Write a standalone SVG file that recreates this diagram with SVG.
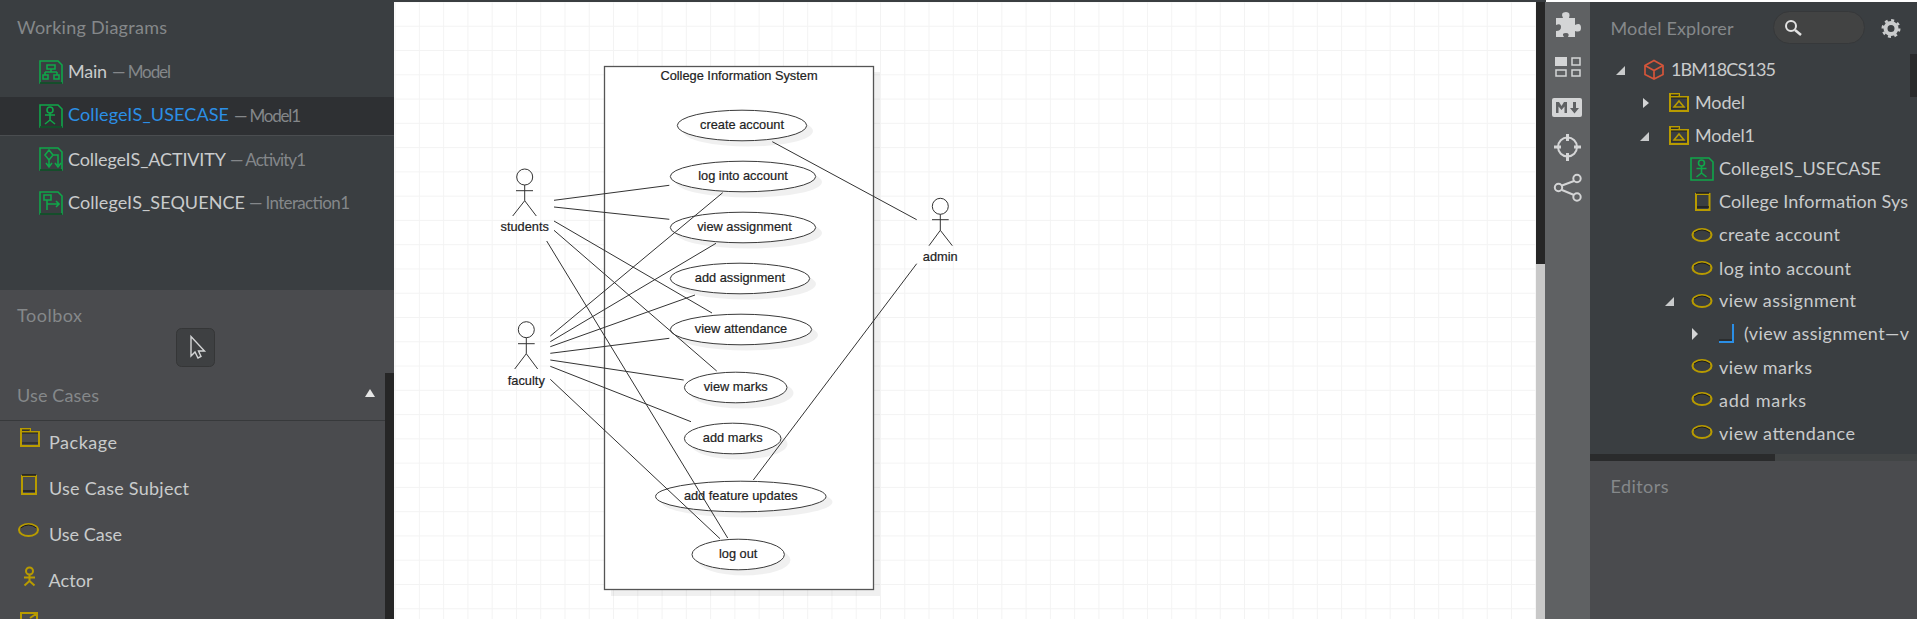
<svg xmlns="http://www.w3.org/2000/svg" width="1917" height="619" viewBox="0 0 1917 619">
<style>
.ui{font-family:"Lato","Open Sans","Liberation Sans",sans-serif;font-size:18px;fill:#c9cbcc}
.hd{fill:#85888a}
.sub{fill:#84878a;font-size:17px}
.sel{fill:#2b8fe6}
.gi{fill:none;stroke:#10a64a;stroke-width:1.6}
.yi{fill:none;stroke:#b89b00;stroke-width:2}
.dk{fill:none;stroke:#1c1c1c;stroke-width:1.5}
.wh{fill:#d4d5d6}
.ol{fill:none;stroke:#d4d5d6;stroke-width:2}
.uc{fill:#fff;stroke:#3a3a3a;stroke-width:1}
.ucs{fill:#000;fill-opacity:.06}
.lb{font-family:"Liberation Sans",Arial,sans-serif;font-size:12.8px;fill:#222;stroke:#222;stroke-width:.2;text-anchor:middle}
.ln{fill:none;stroke:#333;stroke-width:1}
</style>
<defs>
<pattern id="grid" x="394.6" y="1.5" width="24.27" height="24.27" patternUnits="userSpaceOnUse">
<path d="M0 0H24.27M0 0V24.27" fill="none" stroke="#f3f3f3" stroke-width="2"/>
</pattern>
<g id="oval"><ellipse cx="10" cy="7" rx="9.5" ry="6" fill="none" stroke="#b89b00" stroke-width="2"/><path d="M2 5Q10 -1 18 5" fill="none" stroke="#1c1c1c" stroke-width="1"/></g>
<g id="folder"><path d="M1 3H19V17H1ZM1 3V0H10V3" fill="none" stroke="#b89b00" stroke-width="2"/><path d="M2 1H10M2 4H18M2 14H18" fill="none" stroke="#1c1c1c" stroke-width="1"/></g>
<path id="fm" d="M5 13L10 7L15 13Z" fill="none" stroke="#b89b00" stroke-width="1.6"/>
</defs>

<!-- canvas -->
<rect width="1917" height="619" fill="#fff"/>
<rect x="394" y="2" width="1142" height="617" fill="url(#grid)"/>
<rect x="394" y="0" width="1152" height="2" fill="#3a3e41"/>

<!-- left panels -->
<g id="working-diagrams">
<rect x="0" y="0" width="394" height="290" fill="#3a3e41"/>
<rect x="0" y="97" width="394" height="38" fill="#2e3033"/>
<path d="M0 135.5H394" stroke="#4a4d50"/>
<text class="ui hd" x="17" y="34" textLength="150">Working Diagrams</text>
<g><path class="gi" d="M40 61H58L62 65V83H40Z"/><path class="gi" d="M47 65H55V69H47ZM51 69V72M45 72H57M45 72V75M57 72V75M43 75H48V79H43ZM54 75H59V79H54Z" stroke-width="1.2"/><path d="M40 83H62" stroke="#111"/></g>
<text class="ui" x="68" y="78" textLength="39">Main</text><text class="ui sub" x="112" y="78" textLength="59">— Model</text>
<g><path class="gi" d="M40 105H58L62 109V127H40Z"/><circle class="gi" cx="50" cy="110" r="3"/><path class="gi" d="M50 113V120M45 115H55M50 120L45 124M50 120L55 124" stroke-width="1.2"/><path d="M40 127H62" stroke="#111"/></g>
<text class="ui sel" x="68" y="121" textLength="161">CollegeIS_USECASE</text><text class="ui sub" x="234" y="122" textLength="67">— Model1</text>
<g><path class="gi" d="M40 148H58L62 152V170H40Z"/><path class="gi" d="M49 150L53 155L49 160L45 155ZM53 155H58V165M49 160V166M46 163L49 167L52 163M55 163L58 167L61 163" stroke-width="1.2"/><path d="M40 170H62" stroke="#111"/></g>
<text class="ui" x="68" y="166" textLength="158">CollegeIS_ACTIVITY</text><text class="ui sub" x="230" y="166" textLength="76">— Activity1</text>
<g><path class="gi" d="M40 192H58L62 196V214H40Z"/><path class="gi" d="M44 195H51V200H44ZM47 200V210M47 204H59M56 201L59 204L56 207" stroke-width="1.2"/><path d="M40 214H62" stroke="#111"/></g>
<text class="ui" x="68" y="209" textLength="177">CollegeIS_SEQUENCE</text><text class="ui sub" x="249" y="209" textLength="101">— Interaction1</text>
</g>
<g id="toolbox">
<rect x="0" y="290" width="394" height="329" fill="#4a4b4e"/>
<text class="ui hd" x="17" y="322" textLength="65">Toolbox</text>
<rect x="176.500" y="328.500" width="38" height="38" rx="5" fill="#3e4042" stroke="#353637"/>
<path d="M191 336.500V356L195 352L198 358L201 356.500L198.500 351H204.500Z" fill="#3e4042" stroke="#d4d5d6" stroke-width="1.400"/>
<rect x="385" y="373" width="9" height="246" fill="#262626"/>
<text class="ui hd" x="17" y="402" textLength="82">Use Cases</text>
<path d="M365 397L370 389L375 397Z" fill="#e6e6e6"/>
<path d="M0 420.500H385" stroke="#37393b"/>
<g><use href="#folder" x="20" y="429"/></g>
<text class="ui" x="49" y="449" textLength="68">Package</text>
<g><rect class="yi" x="22" y="476" width="14" height="18"/><path class="dk" d="M22 475H36M23 491H35" stroke-width="1"/></g>
<text class="ui" x="49" y="495" textLength="140">Use Case Subject</text>
<use href="#oval" x="18.500" y="523"/>
<text class="ui" x="49" y="541" textLength="73">Use Case</text>
<g><circle class="yi" cx="29.500" cy="571" r="3.500" stroke-width="1.600"/><path class="yi" d="M29.500 575V581M24 577.500H35M29.500 581L24.500 585.500M29.500 581L34.500 585.500" stroke-width="1.600"/></g>
<text class="ui" x="48.500" y="587" textLength="44">Actor</text>
<path class="yi" d="M21 619V613H37V619M30 618L36 614" />
</g>

<!-- toolbar -->
<g id="toolbar">
<rect x="1536" y="2" width="9" height="262" fill="#262626"/>
<rect x="1536" y="264" width="9" height="355" fill="#c8c8c8"/>
<rect x="1545" y="2" width="45" height="617" fill="#5f6163"/>
<path class="wh" d="M1556 18H1563Q1560 12 1566 12Q1571 12 1569 18H1575V25Q1581 22 1581 28Q1581 33 1575 31V37H1568Q1570 33 1566 33Q1561 33 1564 37H1556V31Q1561 31 1561 27Q1561 23 1556 25Z"/>
<rect class="wh" x="1555" y="57" width="12" height="9"/>
<path d="M1572 58H1580V65H1572ZM1556 70H1566V76H1556ZM1572 70H1580V76H1572Z" fill="none" stroke="#d4d5d6" stroke-width="1.500"/>
<rect class="wh" x="1552" y="98" width="30" height="19" rx="2"/>
<path d="M1556 113V102H1559L1561.500 106L1564 102H1567V113H1564.500V106.500L1561.500 110L1558.500 106.500V113ZM1573 102H1576V108H1579L1574.500 113.500L1570 108H1573Z" fill="#5f6163"/>
<circle class="ol" cx="1567.500" cy="147" r="9.500" stroke-width="2.500"/>
<path d="M1567.500 134V141M1567.500 153V161M1554 147H1561M1574 147H1581" stroke="#d4d5d6" stroke-width="3"/>
<circle class="ol" cx="1577" cy="178.500" r="3.700"/><circle class="ol" cx="1577" cy="197" r="3.700"/><circle class="ol" cx="1558.500" cy="187.500" r="3.700"/>
<path class="ol" d="M1574 181L1562 185.500M1562 190L1574 195"/>
</g>

<!-- right panels -->
<g id="model-explorer">
<rect x="1590" y="2" width="327" height="452" fill="#3a3e41"/>
<text class="ui hd" x="1610.500" y="34.500" textLength="123">Model Explorer</text>
<rect x="1773.500" y="11.500" width="91" height="32" rx="16" fill="#424343" stroke="#36383a"/>
<circle cx="1791" cy="26" r="5" fill="none" stroke="#e2e2e2" stroke-width="2"/><path d="M1795 30L1801 35" stroke="#e2e2e2" stroke-width="2.500"/>
<circle cx="1891" cy="28.500" r="5.500" fill="none" stroke="#c9cbcc" stroke-width="4"/><circle cx="1891" cy="28.500" r="8.300" fill="none" stroke="#c9cbcc" stroke-width="2.400" stroke-dasharray="3 3.500"/>
<rect x="1910" y="54" width="7" height="43" fill="#2a2b2c"/>
<path d="M1616 75L1625 66V75Z" fill="#c9cbcc"/>
<path d="M1654 60.500L1663 65.500V74.500L1654 79L1645 74.500V65.500ZM1645 65.500L1654 70.500L1663 65.500M1654 70.500V79" fill="none" stroke="#d4553a" stroke-width="1.700"/>
<text class="ui" x="1671" y="76" textLength="105">1BM18CS135</text>
<path d="M1643 98L1649 103L1643 108Z" fill="#d4d5d6"/>
<use href="#folder" x="1669" y="94"/><use href="#fm" x="1669" y="94"/>
<text class="ui" x="1695" y="109" textLength="50">Model</text>
<path d="M1640 141L1649 132V141Z" fill="#c9cbcc"/>
<use href="#folder" x="1669" y="127"/><use href="#fm" x="1669" y="127"/>
<text class="ui" x="1695" y="142" textLength="60">Model1</text>
<g><path class="gi" d="M1691 158H1709L1713 162V180H1691Z"/><circle class="gi" cx="1701.500" cy="163" r="3"/><path class="gi" d="M1701.500 166V173M1696.500 168.500H1706.500M1701.500 173L1696.500 177M1701.500 173L1706.500 177" stroke-width="1.200"/></g>
<text class="ui" x="1719" y="175" textLength="162">CollegeIS_USECASE</text>
<g><rect class="yi" x="1696" y="194" width="13.500" height="16"/><path class="dk" d="M1696 193H1709M1697 207H1709" stroke-width="1"/></g>
<text class="ui" x="1719" y="208" textLength="189">College Information Sys</text>
<use href="#oval" x="1692" y="228"/>
<text class="ui" x="1719" y="241" textLength="121">create account</text>
<use href="#oval" x="1692" y="261"/>
<text class="ui" x="1719" y="274.500" textLength="132">log into account</text>
<path d="M1665 306L1674 297V306Z" fill="#c9cbcc"/>
<use href="#oval" x="1692" y="294"/>
<text class="ui" x="1719" y="307" textLength="137">view assignment</text>
<path d="M1692 328L1698 334L1692 340Z" fill="#d4d5d6"/>
<path d="M1733 324V342H1719" fill="none" stroke="#2b8fe6" stroke-width="2"/><path d="M1719 340H1732" stroke="#1c1c1c"/>
<text class="ui" x="1744" y="340" textLength="165">(view assignment—v</text>
<use href="#oval" x="1692" y="359"/>
<text class="ui" x="1719" y="373.500" textLength="93">view marks</text>
<use href="#oval" x="1692" y="392"/>
<text class="ui" x="1719" y="406.500" textLength="87">add marks</text>
<use href="#oval" x="1692" y="425"/>
<text class="ui" x="1719" y="439.500" textLength="136">view attendance</text>
<rect x="1590" y="454" width="185" height="7" fill="#2a2b2c"/>
<rect x="1775" y="454" width="142" height="7" fill="#424546"/>
</g>
<g id="editors">
<rect x="1590" y="461" width="327" height="158" fill="#4a4b4e"/>
<text class="ui hd" x="1610.500" y="493" textLength="58">Editors</text>
</g>

<!-- diagram -->
<g id="subject">
<rect x="611" y="72" width="269" height="524" fill="#000" fill-opacity=".06"/>
<rect x="604.500" y="66.500" width="269" height="523" fill="#fff" stroke="#555" stroke-width="1.300"/>
<text class="lb" x="739" y="80">College Information System</text>
</g>
<g id="uc-create-account"><ellipse class="ucs" cx="748" cy="131" rx="65" ry="15.500"/><ellipse class="uc" cx="742" cy="125.500" rx="64.700" ry="15.300"/><text class="lb" x="742" y="128.500">create account</text></g>
<g id="uc-log-into-account"><ellipse class="ucs" cx="749" cy="182" rx="73" ry="15.500"/><ellipse class="uc" cx="743" cy="176.500" rx="72.700" ry="15.300"/><text class="lb" x="743" y="179.500">log into account</text></g>
<g id="uc-view-assignment"><ellipse class="ucs" cx="749" cy="233" rx="73" ry="15.500"/><ellipse class="uc" cx="743" cy="227.500" rx="72.700" ry="15.300"/><text class="lb" x="744.500" y="230.500">view assignment</text></g>
<g id="uc-add-assignment"><ellipse class="ucs" cx="746" cy="284" rx="70" ry="15.500"/><ellipse class="uc" cx="740" cy="278.500" rx="69.700" ry="15.300"/><text class="lb" x="740" y="281.500">add assignment</text></g>
<g id="uc-view-attendance"><ellipse class="ucs" cx="747" cy="335" rx="71" ry="15.500"/><ellipse class="uc" cx="741" cy="329.500" rx="70.700" ry="15.300"/><text class="lb" x="741" y="332.500">view attendance</text></g>
<g id="uc-view-marks"><ellipse class="ucs" cx="742" cy="393" rx="51.500" ry="15.500"/><ellipse class="uc" cx="735.700" cy="387.500" rx="51.300" ry="15.300"/><text class="lb" x="735.700" y="390.500">view marks</text></g>
<g id="uc-add-marks"><ellipse class="ucs" cx="739" cy="444" rx="48.500" ry="15.500"/><ellipse class="uc" cx="732.700" cy="438.500" rx="48.300" ry="15.300"/><text class="lb" x="732.700" y="441.500">add marks</text></g>
<g id="uc-add-feature-updates"><ellipse class="ucs" cx="747" cy="502" rx="85.500" ry="15.500"/><ellipse class="uc" cx="740.800" cy="496.500" rx="85.200" ry="15.300"/><text class="lb" x="740.800" y="499.500">add feature updates</text></g>
<g id="uc-log-out"><ellipse class="ucs" cx="744" cy="560" rx="46.500" ry="15.500"/><ellipse class="uc" cx="738.200" cy="554.500" rx="46.200" ry="15.300"/><text class="lb" x="738.200" y="557.500">log out</text></g>

<g id="actor-students">
<circle class="ln" cx="524.700" cy="177" r="8"/><path class="ln" d="M524.700 185V200.700M516 190.700H533M524.700 200.700L512.700 216M524.700 200.700L536.300 216"/>
<text class="lb" x="524.700" y="231">students</text>
</g>
<g id="actor-faculty">
<circle class="ln" cx="526.300" cy="329.700" r="8"/><path class="ln" d="M526.300 337.700V353.700M518 343.700H534.700M526.300 353.700L514.700 369M526.300 353.700L537.700 369"/>
<text class="lb" x="526.300" y="384.500">faculty</text>
</g>
<g id="actor-admin">
<circle class="ln" cx="940.300" cy="206.300" r="8"/><path class="ln" d="M940.300 214.300V230.300M932 219.700H948.700M940.300 230.300L929 245.700M940.300 230.300L952.300 245.700"/>
<text class="lb" x="940.300" y="260.500">admin</text>
</g>

<g id="connectors" class="ln">
<path d="M554 200.300L669.300 185.300"/>
<path d="M554 207L669.300 219.300"/>
<path d="M554 221L712 313"/>
<path d="M554 230.300L716.700 371"/>
<path d="M546.700 241L727.700 538"/>
<path d="M550.300 336L722.700 192.700"/>
<path d="M550.300 341.700L716 243.300"/>
<path d="M550.300 346.700L695 295"/>
<path d="M550.300 353.300L669.300 338.300"/>
<path d="M550.300 360L683.700 380"/>
<path d="M550.300 366.300L691 421.700"/>
<path d="M550.300 379.300L720 538.700"/>
<path d="M772.300 141.700L916.700 219.700"/>
<path d="M916.700 263.700L753.300 480"/>
</g>
</svg>
